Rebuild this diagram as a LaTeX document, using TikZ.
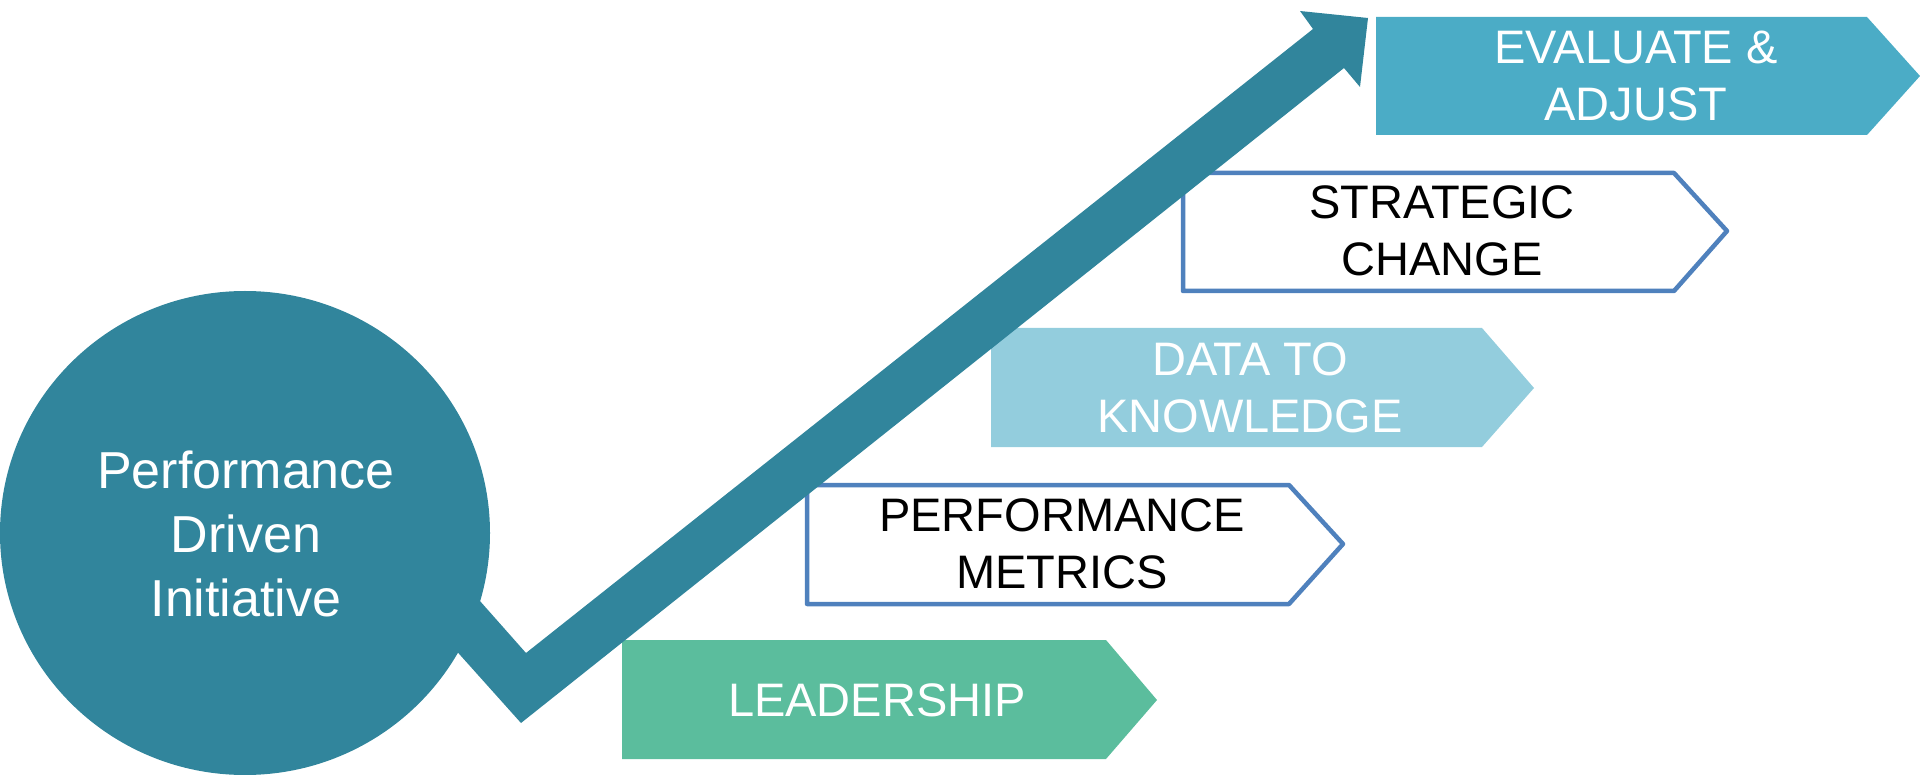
\documentclass[tikz,border=0pt]{standalone}
\usepackage{fontspec}
\usetikzlibrary{shapes.geometric}
\setmainfont{Liberation Sans}
\definecolor{teal}{RGB}{49,133,156}
\definecolor{evalblue}{RGB}{75,172,198}
\definecolor{datablue}{RGB}{147,205,221}
\definecolor{leadgreen}{RGB}{91,189,157}
\definecolor{edgeblue}{RGB}{79,129,189}
\tikzset{
  boxtext/.style={inner sep=0pt, align=center, font=\fontsize{47}{57}\selectfont},
  outlinebox/.style={draw=edgeblue, line width=4.5pt, fill=white, line join=round},
  circtext/.style={inner sep=0pt, align=center, text=white, font=\fontsize{52}{64}\selectfont}
}
\begin{document}
\begin{tikzpicture}[x=1pt,y=-1pt]
\useasboundingbox (0,0) rectangle (1920,775);
% pentagons
\fill[leadgreen] (622,640) -- (1106,640) -- (1157,700) -- (1106,759) -- (622,759) -- cycle;
\draw[outlinebox] (807,485) -- (1289,485) -- (1343,544) -- (1289,604) -- (807,604) -- cycle;
\fill[datablue] (991,328) -- (1482,328) -- (1534,388) -- (1482,447) -- (991,447) -- cycle;
\draw[outlinebox] (1183,173) -- (1674,173) -- (1727,231) -- (1674,291) -- (1183,291) -- cycle;
\fill[evalblue] (1376,17) -- (1867,17) -- (1920,76) -- (1867,135) -- (1376,135) -- cycle;
% arrow
\fill[teal] (441,557) -- (526,653) -- (1313,29) -- (1300,11) -- (1368,18) -- (1360,87) -- (1344,68) -- (521,723) -- (418,608) -- cycle;
% circle
\node[ellipse, fill=teal, minimum width=490pt, minimum height=484pt, inner sep=0pt] (circ) at (245,533) {};
\node[circtext] (circtxt) at (246,534) {Performance\\Driven\\Initiative};
% texts
\node[boxtext, text=white] (t5) at (1636,76) {EVALUATE \&\\ADJUST};
\node[boxtext, text=black] (t4) at (1442,231) {STRATEGIC\\CHANGE};
\node[boxtext, text=white] (t3) at (1250,388) {DATA TO\\KNOWLEDGE};
\node[boxtext, text=black] (t2) at (1062,544) {PERFORMANCE\\METRICS};
\node[boxtext, text=white] (t1) at (877,700) {LEADERSHIP};
\end{tikzpicture}
\end{document}
